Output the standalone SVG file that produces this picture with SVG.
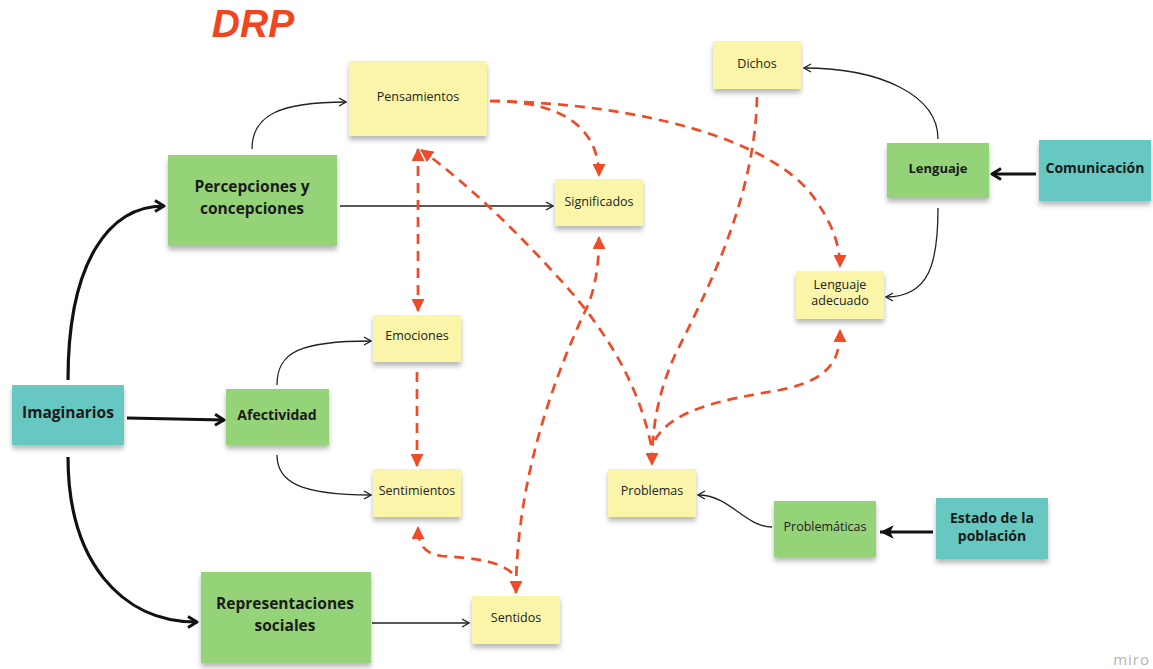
<svg xmlns="http://www.w3.org/2000/svg" width="1153" height="669" viewBox="0 0 1153 669">
<defs>
<filter id="sh" x="-10%" y="-10%" width="120%" height="140%">
<feDropShadow dx="0" dy="4" stdDeviation="2.5" flood-color="#000" flood-opacity="0.28"/>
</filter>
<marker id="chev" viewBox="0 0 10 10" refX="9" refY="5" markerWidth="10" markerHeight="10" markerUnits="userSpaceOnUse" orient="auto">
<path d="M2 1 L9 5 L2 9" fill="none" stroke="#222" stroke-width="1.4"/>
</marker>
<marker id="chevB" viewBox="0 0 14 14" refX="12" refY="7" markerWidth="14" markerHeight="14" markerUnits="userSpaceOnUse" orient="auto">
<path d="M3 1.5 L12 7 L3 12.5" fill="none" stroke="#111" stroke-width="3" stroke-linejoin="round"/>
</marker>
<marker id="triB" viewBox="0 0 14 14" refX="13" refY="7" markerWidth="16" markerHeight="16" markerUnits="userSpaceOnUse" orient="auto">
<path d="M1 1 L13 7 L1 13 L4 7 Z" fill="#111"/>
</marker>
<marker id="red" viewBox="0 0 12 12" refX="11" refY="6" markerWidth="13" markerHeight="13" markerUnits="userSpaceOnUse" orient="auto">
<path d="M0 0 L12 6 L0 12 Z" fill="#EE4B28"/>
</marker>
<marker id="redS" viewBox="0 0 12 12" refX="1" refY="6" markerWidth="13" markerHeight="13" markerUnits="userSpaceOnUse" orient="auto">
<path d="M12 0 L0 6 L12 12 Z" fill="#EE4B28"/>
</marker>
</defs>
<style>
.y{fill:#FBF5AA}
.g{fill:#95D379}
.t{fill:#66C8C1}
.n rect{filter:url(#sh)}
.lt{font-family:"Open Sans","Liberation Sans",sans-serif;font-size:12.5px;fill:#222;text-anchor:middle}
.bt{font-family:"Open Sans","Liberation Sans",sans-serif;font-size:15.5px;font-weight:bold;fill:#1a1a1a;text-anchor:middle}
.thin{fill:none;stroke:#222;stroke-width:1.3}
.thick{fill:none;stroke:#111;stroke-width:3.2}
.dash{fill:none;stroke:#EE4B28;stroke-width:2.7;stroke-dasharray:10 7}
</style>
<rect width="1153" height="669" fill="#fff"/>
<text x="253" y="37" font-family="Liberation Sans,Arial,sans-serif" font-size="39" font-weight="bold" font-style="italic" fill="#F0461F" text-anchor="middle">DRP</text>

<g id="connectors">
<path class="thin" d="M252 149 C252 115 280 102 346 102" marker-end="url(#chev)"/>
<path class="thin" d="M340 206 L553 206" marker-end="url(#chev)"/>
<path class="thick" d="M68 380 C68 260 110 206 164 206" marker-end="url(#chevB)"/>
<path class="thick" d="M127 418 L224 420" marker-end="url(#chevB)"/>
<path class="thick" d="M68 457 C68 560 120 622 197 622" marker-end="url(#chevB)"/>
<path class="thin" d="M277 385 C277 352 300 341 371 341" marker-end="url(#chev)"/>
<path class="thin" d="M277 455 C277 482 300 495 371 495" marker-end="url(#chev)"/>
<path class="thin" d="M372 623 L469 623" marker-end="url(#chev)"/>
<path class="thin" d="M938 139 C938 95 880 68 804 68" marker-end="url(#chev)"/>
<path class="thin" d="M938 208 C938 262 930 297 886 297" marker-end="url(#chev)"/>
<path class="thick" d="M1036 174 L992 174" marker-end="url(#chevB)"/>
<path class="thick" d="M933 532 L880 532" marker-end="url(#triB)"/>
<path class="thin" d="M772 527 C745 527 730 495 698 495" marker-end="url(#chev)"/>

<path class="dash" d="M490 101 C565 101 599 130 599 176" marker-end="url(#red)"/>
<path class="dash" d="M490 101 C640 103 770 140 812 195 C832 222 840 245 840 267" marker-end="url(#red)"/>
<path class="dash" d="M418 149 L418 311" marker-start="url(#redS)" marker-end="url(#red)"/>
<path class="dash" d="M417 372 L417 466" marker-end="url(#red)"/>
<path class="dash" d="M651 445 C640 390 610 335 565 285 C525 240 470 185 421 150" marker-end="url(#red)"/>
<path class="dash" d="M516 593 C516 495 545 395 588 305 C596 285 599 262 599 237" marker-start="url(#redS)" marker-end="url(#red)"/>
<path class="dash" d="M512 573 C498 560 470 558 442 556 C425 554 418 545 418 527" marker-end="url(#red)"/>
<path class="dash" d="M757 97 C755 200 705 295 675 355 C657 395 652 430 652 465" marker-end="url(#red)"/>
<path class="dash" d="M655 440 C672 410 720 400 780 390 C830 380 840 360 840 330" marker-end="url(#red)"/>
</g>

<g id="pensamientos" class="n"><rect class="y" x="349" y="61" width="138" height="75"/><text class="lt" x="418" y="101">Pensamientos</text></g>
<g id="percepciones" class="n"><rect class="g" x="168" y="155" width="169" height="91"/><text class="bt" x="252" y="192">Percepciones y</text><text class="bt" x="252" y="214">concepciones</text></g>
<g id="significados" class="n"><rect class="y" x="555" y="179" width="88" height="47"/><text class="lt" x="599" y="206">Significados</text></g>
<g id="dichos" class="n"><rect class="y" x="713" y="41" width="88" height="48"/><text class="lt" x="757" y="68">Dichos</text></g>
<g id="lenguaje" class="n"><rect class="g" x="887" y="143" width="102" height="55"/><text class="bt" x="938" y="173" style="font-size:13px">Lenguaje</text></g>
<g id="comunicacion" class="n"><rect class="t" x="1039" y="140" width="112" height="61"/><text class="bt" x="1095" y="173" style="font-size:14px">Comunicación</text></g>
<g id="lenguaje-adecuado" class="n"><rect class="y" x="796" y="271" width="88" height="48"/><text class="lt" x="840" y="289">Lenguaje</text><text class="lt" x="840" y="305">adecuado</text></g>
<g id="emociones" class="n"><rect class="y" x="373" y="315" width="88" height="47"/><text class="lt" x="417" y="340">Emociones</text></g>
<g id="imaginarios" class="n"><rect class="t" x="12" y="385" width="112" height="60"/><text class="bt" x="68" y="418">Imaginarios</text></g>
<g id="afectividad" class="n"><rect class="g" x="226" y="389" width="103" height="56"/><text class="bt" x="277" y="420" style="font-size:14px">Afectividad</text></g>
<g id="sentimientos" class="n"><rect class="y" x="373" y="469" width="88" height="48"/><text class="lt" x="417" y="495">Sentimientos</text></g>
<g id="problemas" class="n"><rect class="y" x="608" y="469" width="88" height="48"/><text class="lt" x="652" y="495">Problemas</text></g>
<g id="problematicas" class="n"><rect class="g" x="774" y="501" width="102" height="56"/><text class="lt" x="825" y="531">Problemáticas</text></g>
<g id="estado" class="n"><rect class="t" x="936" y="498" width="112" height="61"/><text class="bt" x="992" y="523" style="font-size:14px">Estado de la</text><text class="bt" x="992" y="541" style="font-size:14px">población</text></g>
<g id="representaciones" class="n"><rect class="g" x="201" y="572" width="170" height="91"/><text class="bt" x="285" y="609">Representaciones</text><text class="bt" x="285" y="631">sociales</text></g>
<g id="sentidos" class="n"><rect class="y" x="472" y="596" width="88" height="48"/><text class="lt" x="516" y="622">Sentidos</text></g>

<text x="1150" y="665" font-family="Open Sans,Liberation Sans,sans-serif" font-size="15" fill="#b5b5b5" text-anchor="end" letter-spacing="1">miro</text>
</svg>
